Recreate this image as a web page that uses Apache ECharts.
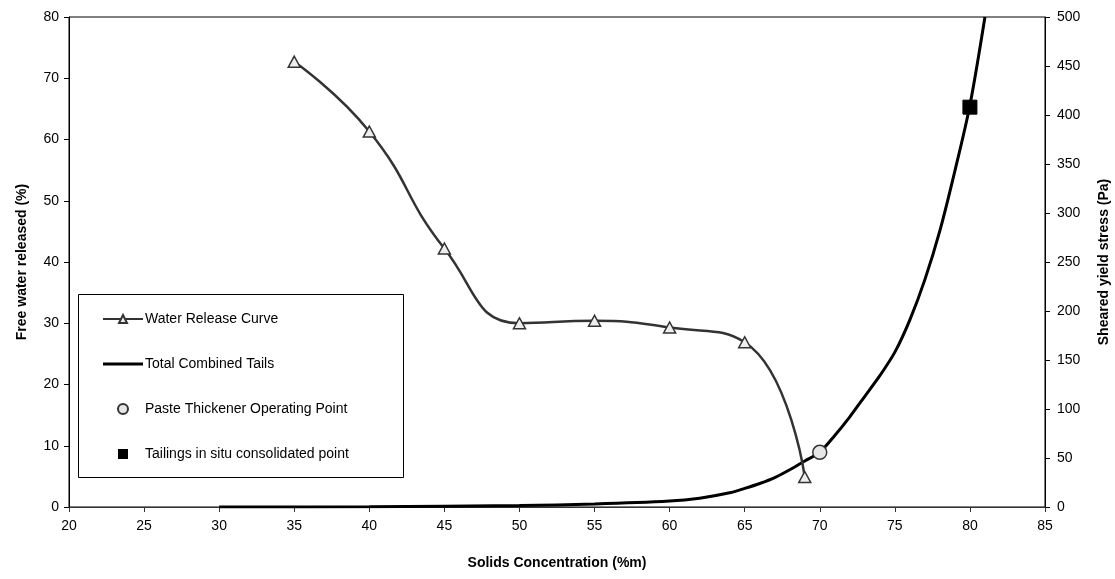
<!DOCTYPE html>
<html>
<head>
<meta charset="utf-8">
<script src="https://cdn.jsdelivr.net/npm/echarts@6/dist/echarts.min.js"></script>
<style>
html,body{margin:0;padding:0;background:#fff;}
#chart{width:1115px;height:579px;}
</style>
</head>
<body>
<div id="chart"></div>
<script>
// Water release curve (left axis, %)
const waterX = [35, 40, 45, 50, 55, 60, 65, 69];
const waterY = [72.7, 61.3, 42.2, 30.0, 30.4, 29.3, 26.9, 4.9];
// Total combined tails yield stress (right axis, Pa)
const tailsX = [30, 40, 50, 55, 60, 62, 64, 65, 66, 67, 68, 69, 70, 71, 72, 73, 74, 75, 76, 77, 78, 79, 80, 81];
const tailsY = [0, 0.3, 1.5, 3, 6, 9, 14.5, 19, 24, 30, 38, 47, 56, 73, 92, 113, 134, 158, 191, 232, 282, 343, 410, 500];
// Single points (right axis, Pa)
const pastePoint = [70, 55.8];
const tailingsPoint = [80, 408];
// Axis ticks
const xTicks = {min: 20, max: 85, interval: 5};
const yLeftTicks = {min: 0, max: 80, interval: 10};
const yRightTicks = {min: 0, max: 500, interval: 50};

const font = 'Liberation Sans, Arial, sans-serif';
const chart = echarts.init(document.getElementById('chart'), null, {renderer: 'canvas'});

const zip = (xs, ys) => xs.map((x, i) => [x, ys[i]]);

chart.setOption({
  animation: false,
  backgroundColor: '#fff',
  textStyle: {fontFamily: font, color: '#000'},
  grid: {left: 69, right: 70, top: 17, bottom: 72, outerBoundsMode: 'none', containLabel: false,
         show: true, borderColor: '#000', borderWidth: 1, backgroundColor: 'transparent'},
  graphic: [{
    type: 'rect', left: 78, top: 294, z: 5,
    shape: {width: 325, height: 183},
    style: {fill: '#fff', stroke: '#000', lineWidth: 1}
  }],
  legend: {
    orient: 'vertical', left: 102, top: 312, z: 10,
    itemWidth: 40, itemHeight: 10, itemGap: 31,
    padding: 0,
    textStyle: {fontFamily: font, fontSize: 14, color: '#000', padding: [0, 0, 0, -3]},
    data: [
      {name: 'Water Release Curve'},
      {name: 'Total Combined Tails', icon: 'path://M0,0L40,0L40,3L0,3Z'},
      {name: 'Paste Thickener Operating Point'},
      {name: 'Tailings in situ consolidated point', icon: 'path://M0,0L9,0L9,9L0,9Z'}
    ]
  },
  xAxis: {
    type: 'value', min: xTicks.min, max: xTicks.max, interval: xTicks.interval,
    name: 'Solids Concentration (%m)', nameLocation: 'middle', nameGap: 49,
    nameTextStyle: {fontFamily: font, fontSize: 14, fontWeight: 'bold', color: '#000'},
    axisLine: {show: true, lineStyle: {color: '#333', width: 1}},
    axisTick: {show: true, inside: false, length: 5, lineStyle: {color: '#333'}},
    axisLabel: {fontFamily: font, fontSize: 14, color: '#000', margin: 12},
    splitLine: {show: false}
  },
  yAxis: [{
    type: 'value', position: 'left', min: yLeftTicks.min, max: yLeftTicks.max, interval: yLeftTicks.interval,
    name: 'Free water released (%)', nameLocation: 'middle', nameGap: 40, nameRotate: 90,
    nameTextStyle: {fontFamily: font, fontSize: 14, fontWeight: 'bold', color: '#000'},
    axisLine: {show: true, lineStyle: {color: '#000', width: 1}},
    axisTick: {show: true, inside: false, length: 5, lineStyle: {color: '#000'}},
    axisLabel: {fontFamily: font, fontSize: 14, color: '#000', margin: 10},
    splitLine: {show: false}
  }, {
    type: 'value', position: 'right', min: yRightTicks.min, max: yRightTicks.max, interval: yRightTicks.interval,
    name: 'Sheared yield stress (Pa)', nameLocation: 'middle', nameGap: 52, nameRotate: 90,
    nameTextStyle: {fontFamily: font, fontSize: 14, fontWeight: 'bold', color: '#000'},
    axisLine: {show: true, lineStyle: {color: '#000', width: 1}},
    axisTick: {show: true, inside: false, length: 5, lineStyle: {color: '#000'}},
    axisLabel: {fontFamily: font, fontSize: 14, color: '#000', margin: 12},
    splitLine: {show: false}
  }],
  series: [{
    name: 'Water Release Curve', type: 'line', yAxisIndex: 0, smooth: 0.5,
    data: zip(waterX, waterY),
    symbol: 'triangle', symbolSize: [12, 11], showAllSymbol: true,
    lineStyle: {color: '#333', width: 2.5},
    itemStyle: {color: '#eeeeee', borderColor: '#333', borderWidth: 1.5},
    z: 3
  }, {
    name: 'Total Combined Tails', type: 'line', yAxisIndex: 1, smooth: 0.3,
    data: zip(tailsX, tailsY),
    symbol: 'none', clip: true,
    lineStyle: {color: '#000', width: 3},
    itemStyle: {color: '#000'},
    z: 2
  }, {
    name: 'Paste Thickener Operating Point', type: 'scatter', yAxisIndex: 1,
    data: [pastePoint], symbol: 'circle', symbolSize: 14,
    itemStyle: {color: '#e6e6e6', borderColor: '#333', borderWidth: 1.5, opacity: 1},
    z: 4
  }, {
    name: 'Tailings in situ consolidated point', type: 'scatter', yAxisIndex: 1,
    data: [tailingsPoint], symbol: 'rect', symbolSize: 14,
    itemStyle: {color: '#000', borderColor: '#000', opacity: 1},
    z: 4
  }]
});
</script>
</body>
</html>
